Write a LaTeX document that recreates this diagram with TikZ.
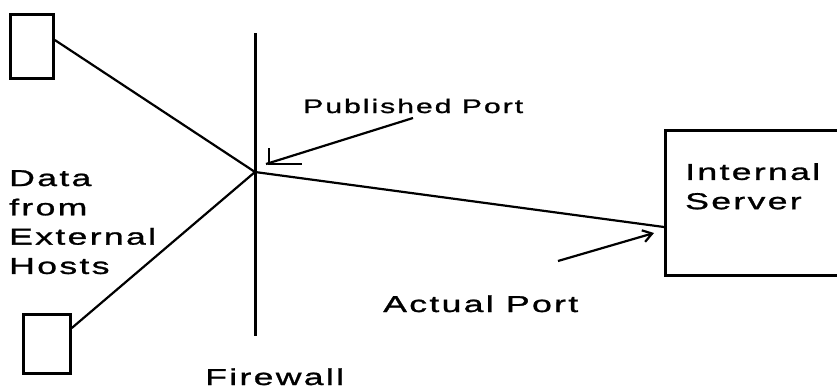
\documentclass[tikz,border=0pt]{standalone}
\usepackage{fontspec}
\setmainfont{Liberation Sans}[FakeStretch=1.55,LetterSpace=10,FakeBold=1.2]
\usetikzlibrary{arrows.meta}
\begin{document}
\begin{tikzpicture}[x=1pt,y=-1pt,
  hostbox/.style={draw,line width=2.8pt,minimum width=43pt,minimum height=64pt,inner sep=0pt,anchor=north west},
  srvbox/.style={draw,line width=2.6pt,minimum width=190pt,minimum height=145pt,inner sep=0pt,anchor=north west},
  wire/.style={line width=2.2pt},
  lbl/.style={inner sep=0pt,font=\fontsize{23}{29.3}\selectfont},
  smalllbl/.style={inner sep=0pt,font=\fontsize{19.5}{24}\selectfont}]
\useasboundingbox (0,0) rectangle (837,391);
% hosts
\node[hostbox] (h1) at (9,13) {};
\node[hostbox,minimum width=47pt,minimum height=59pt] (h2) at (22,313) {};
% firewall
\coordinate (fwtop) at (255,33);
\coordinate (fwbot) at (255,336);
\draw[line width=3pt] (fwtop) -- (fwbot);
\coordinate (j) at (255,172);
% server
\node[srvbox] (srv) at (664,129) {};
\coordinate (srvin) at (664,227);
% connectors
\draw[wire] (h1.east |- 0,40) -- (j);
\draw[wire] (h2.east |- 0,328) -- (j);
\draw[wire] (j) -- (srvin);
% published port arrow
\coordinate (pubstart) at (413,118);
\coordinate (pubtip) at (266,164);
\draw[wire] (pubstart) -- (pubtip);
\draw[line width=2.8pt] (269,148) -- (269,164) -- (302,164);
% actual port arrow
\coordinate (actstart) at (558,261);
\coordinate (acttip) at (654,233);
\draw[wire,-{Straight Barb[length=9pt,width=12pt,line width=2.2pt]}] (actstart) -- (acttip);
% labels
\node[smalllbl,anchor=base west] (pub) at (303,113) {Published Port};
\node[lbl,anchor=north west,align=left] (data) at (9,170) {Data\\from\\External\\Hosts};
\node[lbl,anchor=north west,align=left] (srvlbl) at (685,163) {Internal\\Server};
\node[lbl,anchor=base west] (act) at (383,312) {Actual Port};
\node[lbl,anchor=base west] (fw) at (205,385) {Firewall};
\end{tikzpicture}
\end{document}
